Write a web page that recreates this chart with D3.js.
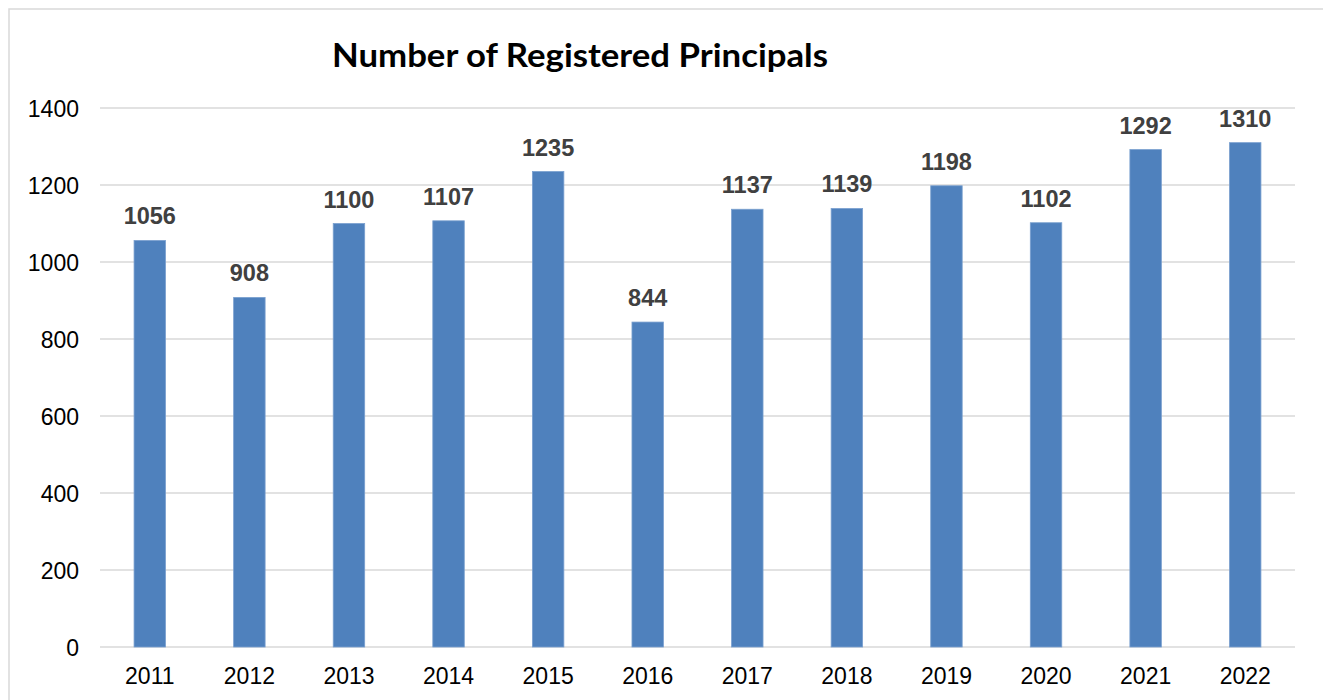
<!DOCTYPE html>
<html>
<head>
<meta charset="utf-8">
<script src="https://cdn.jsdelivr.net/npm/d3@7"></script>
<style>
  html, body { margin: 0; padding: 0; background: #fff; }
  svg { display: block; }
</style>
</head>
<body>
<svg id="chart" width="1323" height="700"></svg>
<script>
const years = ["2011","2012","2013","2014","2015","2016","2017","2018","2019","2020","2021","2022"];
const principals = [1056, 908, 1100, 1107, 1235, 844, 1137, 1139, 1198, 1102, 1292, 1310];
const yTicks = [0, 200, 400, 600, 800, 1000, 1200, 1400];
const titleText = "Number of Registered Principals";

(function () {
const svg = d3.select("#chart");

// outer border
svg.append("rect")
  .attr("x", 9).attr("y", 9)
  .attr("width", 1340).attr("height", 720)
  .attr("fill", "none")
  .attr("stroke", "#d9d9d9")
  .attr("stroke-width", 1.5);

const plotLeft = 100, plotRight = 1295, plotTop = 108, plotBottom = 647;

const x = d3.scaleBand().domain(years).range([plotLeft, plotRight]).paddingInner(0.684).paddingOuter(0.342);
const y = d3.scaleLinear().domain([0, 1400]).range([plotBottom, plotTop]);

// gridlines
svg.append("g").selectAll("line").data(yTicks).join("line")
  .attr("x1", plotLeft).attr("x2", plotRight)
  .attr("y1", d => y(d)).attr("y2", d => y(d))
  .attr("stroke", "#d9d9d9").attr("stroke-width", 1.5);

// y axis labels
const yAxis = d3.axisLeft(y).tickValues(yTicks).tickSize(0).tickPadding(0).tickFormat(d3.format("d"));
const yg = svg.append("g").attr("transform", `translate(79,0)`).call(yAxis);
yg.select(".domain").remove();
yg.selectAll("text")
  .attr("font-family", "'Liberation Sans', Arial, sans-serif")
  .attr("font-size", 23)
  .attr("fill", "#000")
  .attr("dy", "0.36em");

// x axis labels
const xAxis = d3.axisBottom(x).tickSize(0).tickPadding(0);
const xg = svg.append("g").attr("transform", `translate(0,${plotBottom})`).call(xAxis);
xg.select(".domain").remove();
xg.selectAll("text")
  .attr("font-family", "'Liberation Sans', Arial, sans-serif")
  .attr("font-size", 23)
  .attr("fill", "#000")
  .attr("dy", null)
  .attr("y", 37);

// bars
svg.append("g").selectAll("rect").data(principals).join("rect")
  .attr("x", (d, i) => x(years[i]))
  .attr("width", x.bandwidth())
  .attr("y", d => y(d))
  .attr("height", d => y(0) - y(d))
  .attr("fill", "#4f81bd")
  .attr("stroke", "#7aa0cf")
  .attr("stroke-width", 0.8);

// value labels
svg.append("g").selectAll("text").data(principals).join("text")
  .attr("x", (d, i) => x(years[i]) + x.bandwidth() / 2)
  .attr("y", d => y(d) - 16)
  .attr("text-anchor", "middle")
  .attr("font-family", "'Liberation Sans', Arial, sans-serif")
  .attr("font-weight", "bold")
  .attr("font-size", 23.5)
  .attr("fill", "#404040")
  .text(d => d);

// title
svg.append("text")
  .attr("x", 332).attr("y", 67)
  .attr("font-family", "Lato, 'Open Sans', sans-serif")
  .attr("font-weight", "bold")
  .attr("font-size", 32)
  .attr("fill", "#000")
  .attr("textLength", 496)
  .attr("lengthAdjust", "spacingAndGlyphs")
  .text(titleText);
})();
</script>
</body>
</html>
